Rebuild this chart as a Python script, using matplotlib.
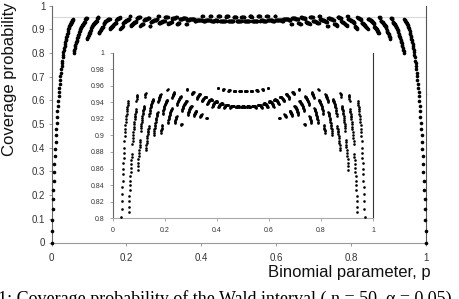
import numpy as np
import matplotlib.pyplot as plt
from matplotlib.lines import Line2D

plt.rcParams['font.family'] = ['Liberation Sans', 'DejaVu Sans']

# coverage, one value every 0.001 in p (p = 0 ... 0.5)
P_STEP = 0.001
coverage_left = [
    0.0,
    0.0488, 0.0953, 0.1395, 0.1817, 0.2217, 0.2599, 0.2962, 0.3309, 0.3638, 0.3950,
    0.4248, 0.4532, 0.4802, 0.5058, 0.5303, 0.5536, 0.5757, 0.5965, 0.6165, 0.6353,
    0.6535, 0.6705, 0.6868, 0.7022, 0.7165, 0.7300, 0.7432, 0.7557, 0.7674, 0.7811,
    0.7918, 0.8020, 0.8116, 0.8208, 0.8295, 0.8377, 0.8455, 0.8529, 0.8600, 0.8666,
    0.8728, 0.8787, 0.8842, 0.8936, 0.8988, 0.9035, 0.9081, 0.9123, 0.9162, 0.9199,
    0.9232, 0.9264, 0.9292, 0.9319, 0.9344, 0.9369, 0.9390, 0.9411, 0.7980, 0.8070,
    0.8141, 0.8210, 0.8275, 0.8336, 0.8398, 0.8455, 0.8510, 0.8562, 0.8612, 0.8658,
    0.8701, 0.8742, 0.8780, 0.8894, 0.8934, 0.8973, 0.9010, 0.9045, 0.9078, 0.9107,
    0.9137, 0.9165, 0.9192, 0.9216, 0.9238, 0.9259, 0.9279, 0.9297, 0.9313, 0.9419,
    0.9439, 0.9458, 0.9474, 0.9491, 0.8587, 0.8632, 0.8673, 0.8713, 0.8751, 0.8789,
    0.8825, 0.8858, 0.8890, 0.8922, 0.8950, 0.9057, 0.9086, 0.9114, 0.9141, 0.9165,
    0.9189, 0.9213, 0.9233, 0.9254, 0.9271, 0.9289, 0.9307, 0.9319, 0.9334, 0.9347,
    0.9355, 0.9469, 0.9482, 0.9496, 0.9507, 0.8822, 0.8852, 0.8883, 0.8911, 0.8938,
    0.8965, 0.8990, 0.9012, 0.9035, 0.9056, 0.9075, 0.9092, 0.9111, 0.9234, 0.9254,
    0.9273, 0.9292, 0.9308, 0.9326, 0.9341, 0.9355, 0.9370, 0.9381, 0.9393, 0.9402,
    0.9411, 0.9418, 0.9426, 0.9433, 0.9439, 0.9002, 0.9030, 0.9052, 0.9072, 0.9092,
    0.9111, 0.9130, 0.9149, 0.9167, 0.9185, 0.9200, 0.9214, 0.9228, 0.9242, 0.9256,
    0.9267, 0.9277, 0.9401, 0.9413, 0.9425, 0.9436, 0.9447, 0.9459, 0.9468, 0.9476,
    0.9484, 0.9492, 0.9498, 0.9028, 0.9050, 0.9070, 0.9082, 0.9093, 0.9108, 0.9121,
    0.9260, 0.9276, 0.9290, 0.9303, 0.9318, 0.9332, 0.9343, 0.9354, 0.9365, 0.9376,
    0.9384, 0.9392, 0.9399, 0.9406, 0.9414, 0.9418, 0.9421, 0.9424, 0.9545, 0.9555,
    0.9150, 0.9167, 0.9183, 0.9198, 0.9212, 0.9225, 0.9238, 0.9250, 0.9262, 0.9274,
    0.9285, 0.9294, 0.9303, 0.9311, 0.9318, 0.9325, 0.9455, 0.9465, 0.9474, 0.9482,
    0.9489, 0.9495, 0.9501, 0.9507, 0.9513, 0.9518, 0.9150, 0.9164, 0.9177, 0.9189,
    0.9200, 0.9209, 0.9217, 0.9224, 0.9230, 0.9370, 0.9383, 0.9395, 0.9404, 0.9412,
    0.9420, 0.9427, 0.9434, 0.9440, 0.9445, 0.9450, 0.9455, 0.9459, 0.9463, 0.9467,
    0.9470, 0.9130, 0.9135, 0.9140, 0.9290, 0.9302, 0.9314, 0.9325, 0.9335, 0.9345,
    0.9353, 0.9361, 0.9368, 0.9374, 0.9380, 0.9386, 0.9391, 0.9396, 0.9401, 0.9406,
    0.9410, 0.9413, 0.9416, 0.9550, 0.9555, 0.9560, 0.9247, 0.9258, 0.9269, 0.9279,
    0.9288, 0.9297, 0.9305, 0.9313, 0.9320, 0.9327, 0.9334, 0.9340, 0.9345, 0.9347,
    0.9350, 0.9352, 0.9495, 0.9500, 0.9506, 0.9510, 0.9515, 0.9519, 0.9522, 0.9525,
    0.9235, 0.9244, 0.9253, 0.9261, 0.9268, 0.9275, 0.9281, 0.9286, 0.9290, 0.9293,
    0.9295, 0.9445, 0.9452, 0.9458, 0.9464, 0.9470, 0.9475, 0.9480, 0.9484, 0.9488,
    0.9492, 0.9495, 0.9498, 0.9500, 0.9225, 0.9231, 0.9237, 0.9242, 0.9246, 0.9250,
    0.9253, 0.9410, 0.9417, 0.9424, 0.9430, 0.9435, 0.9440, 0.9445, 0.9449, 0.9453,
    0.9457, 0.9460, 0.9462, 0.9463, 0.9464, 0.9464, 0.9463, 0.9462, 0.9205, 0.9207,
    0.9208, 0.9375, 0.9383, 0.9390, 0.9396, 0.9402, 0.9407, 0.9412, 0.9416, 0.9420,
    0.9424, 0.9427, 0.9429, 0.9431, 0.9432, 0.9433, 0.9434, 0.9434, 0.9433, 0.9432,
    0.9430, 0.9345, 0.9353, 0.9360, 0.9367, 0.9374, 0.9380, 0.9385, 0.9390, 0.9394,
    0.9397, 0.9400, 0.9403, 0.9405, 0.9407, 0.9408, 0.9409, 0.9409, 0.9409, 0.9408,
    0.9407, 0.9566, 0.9567, 0.9568, 0.9340, 0.9346, 0.9352, 0.9357, 0.9362, 0.9367,
    0.9371, 0.9374, 0.9377, 0.9380, 0.9383, 0.9384, 0.9385, 0.9385, 0.9385, 0.9384,
    0.9383, 0.9381, 0.9550, 0.9552, 0.9554, 0.9555, 0.9335, 0.9340, 0.9345, 0.9350,
    0.9355, 0.9359, 0.9362, 0.9365, 0.9367, 0.9369, 0.9370, 0.9370, 0.9370, 0.9369,
    0.9368, 0.9367, 0.9365, 0.9540, 0.9541, 0.9543, 0.9544, 0.9545, 0.9545, 0.9336,
    0.9340, 0.9344, 0.9348, 0.9352, 0.9355, 0.9357, 0.9358, 0.9359, 0.9359, 0.9358,
    0.9357, 0.9356, 0.9354, 0.9352, 0.9533, 0.9535, 0.9536, 0.9537, 0.9538, 0.9538,
    0.9538, 0.9337, 0.9340, 0.9343, 0.9346, 0.9348, 0.9350, 0.9352, 0.9352, 0.9352,
    0.9351, 0.9350, 0.9349, 0.9347, 0.9345, 0.9530, 0.9531, 0.9532, 0.9532, 0.9533,
    0.9533, 0.9532, 0.9532, 0.9341, 0.9344, 0.9346, 0.9348, 0.9349, 0.9350, 0.9350,
]
# p = 0.501 ... 1
coverage_right = [
    0.9350, 0.9349, 0.9348, 0.9346, 0.9344, 0.9341, 0.9532, 0.9532, 0.9533, 0.9533,
    0.9532, 0.9532, 0.9531, 0.9530, 0.9345, 0.9347, 0.9349, 0.9350, 0.9351, 0.9352,
    0.9352, 0.9352, 0.9350, 0.9348, 0.9346, 0.9343, 0.9340, 0.9337, 0.9538, 0.9538,
    0.9538, 0.9537, 0.9536, 0.9535, 0.9533, 0.9352, 0.9354, 0.9356, 0.9357, 0.9358,
    0.9359, 0.9359, 0.9358, 0.9357, 0.9355, 0.9352, 0.9348, 0.9344, 0.9340, 0.9336,
    0.9545, 0.9545, 0.9544, 0.9543, 0.9541, 0.9540, 0.9365, 0.9367, 0.9368, 0.9369,
    0.9370, 0.9370, 0.9370, 0.9369, 0.9367, 0.9365, 0.9362, 0.9359, 0.9355, 0.9350,
    0.9345, 0.9340, 0.9335, 0.9555, 0.9554, 0.9552, 0.9550, 0.9381, 0.9383, 0.9384,
    0.9385, 0.9385, 0.9385, 0.9384, 0.9383, 0.9380, 0.9377, 0.9374, 0.9371, 0.9367,
    0.9362, 0.9357, 0.9352, 0.9346, 0.9340, 0.9568, 0.9567, 0.9566, 0.9407, 0.9408,
    0.9409, 0.9409, 0.9409, 0.9408, 0.9407, 0.9405, 0.9403, 0.9400, 0.9397, 0.9394,
    0.9390, 0.9385, 0.9380, 0.9374, 0.9367, 0.9360, 0.9353, 0.9345, 0.9430, 0.9432,
    0.9433, 0.9434, 0.9434, 0.9433, 0.9432, 0.9431, 0.9429, 0.9427, 0.9424, 0.9420,
    0.9416, 0.9412, 0.9407, 0.9402, 0.9396, 0.9390, 0.9383, 0.9375, 0.9208, 0.9207,
    0.9205, 0.9462, 0.9463, 0.9464, 0.9464, 0.9463, 0.9462, 0.9460, 0.9457, 0.9453,
    0.9449, 0.9445, 0.9440, 0.9435, 0.9430, 0.9424, 0.9417, 0.9410, 0.9253, 0.9250,
    0.9246, 0.9242, 0.9237, 0.9231, 0.9225, 0.9500, 0.9498, 0.9495, 0.9492, 0.9488,
    0.9484, 0.9480, 0.9475, 0.9470, 0.9464, 0.9458, 0.9452, 0.9445, 0.9295, 0.9293,
    0.9290, 0.9286, 0.9281, 0.9275, 0.9268, 0.9261, 0.9253, 0.9244, 0.9235, 0.9525,
    0.9522, 0.9519, 0.9515, 0.9510, 0.9506, 0.9500, 0.9495, 0.9352, 0.9350, 0.9347,
    0.9345, 0.9340, 0.9334, 0.9327, 0.9320, 0.9313, 0.9305, 0.9297, 0.9288, 0.9279,
    0.9269, 0.9258, 0.9247, 0.9560, 0.9555, 0.9550, 0.9416, 0.9413, 0.9410, 0.9406,
    0.9401, 0.9396, 0.9391, 0.9386, 0.9380, 0.9374, 0.9368, 0.9361, 0.9353, 0.9345,
    0.9335, 0.9325, 0.9314, 0.9302, 0.9290, 0.9140, 0.9135, 0.9130, 0.9470, 0.9467,
    0.9463, 0.9459, 0.9455, 0.9450, 0.9445, 0.9440, 0.9434, 0.9427, 0.9420, 0.9412,
    0.9404, 0.9395, 0.9383, 0.9370, 0.9230, 0.9224, 0.9217, 0.9209, 0.9200, 0.9189,
    0.9177, 0.9164, 0.9150, 0.9518, 0.9513, 0.9507, 0.9501, 0.9495, 0.9489, 0.9482,
    0.9474, 0.9465, 0.9455, 0.9325, 0.9318, 0.9311, 0.9303, 0.9294, 0.9285, 0.9274,
    0.9262, 0.9250, 0.9238, 0.9225, 0.9212, 0.9198, 0.9183, 0.9167, 0.9150, 0.9555,
    0.9545, 0.9424, 0.9421, 0.9418, 0.9414, 0.9406, 0.9399, 0.9392, 0.9384, 0.9376,
    0.9365, 0.9354, 0.9343, 0.9332, 0.9318, 0.9303, 0.9290, 0.9276, 0.9260, 0.9121,
    0.9108, 0.9093, 0.9082, 0.9070, 0.9050, 0.9028, 0.9498, 0.9492, 0.9484, 0.9476,
    0.9468, 0.9459, 0.9447, 0.9436, 0.9425, 0.9413, 0.9401, 0.9277, 0.9267, 0.9256,
    0.9242, 0.9228, 0.9214, 0.9200, 0.9185, 0.9167, 0.9149, 0.9130, 0.9111, 0.9092,
    0.9072, 0.9052, 0.9030, 0.9002, 0.9439, 0.9433, 0.9426, 0.9418, 0.9411, 0.9402,
    0.9393, 0.9381, 0.9370, 0.9355, 0.9341, 0.9326, 0.9308, 0.9292, 0.9273, 0.9254,
    0.9234, 0.9111, 0.9092, 0.9075, 0.9056, 0.9035, 0.9012, 0.8990, 0.8965, 0.8938,
    0.8911, 0.8883, 0.8852, 0.8822, 0.9507, 0.9496, 0.9482, 0.9469, 0.9355, 0.9347,
    0.9334, 0.9319, 0.9307, 0.9289, 0.9271, 0.9254, 0.9233, 0.9213, 0.9189, 0.9165,
    0.9141, 0.9114, 0.9086, 0.9057, 0.8950, 0.8922, 0.8890, 0.8858, 0.8825, 0.8789,
    0.8751, 0.8713, 0.8673, 0.8632, 0.8587, 0.9491, 0.9474, 0.9458, 0.9439, 0.9419,
    0.9313, 0.9297, 0.9279, 0.9259, 0.9238, 0.9216, 0.9192, 0.9165, 0.9137, 0.9107,
    0.9078, 0.9045, 0.9010, 0.8973, 0.8934, 0.8894, 0.8780, 0.8742, 0.8701, 0.8658,
    0.8612, 0.8562, 0.8510, 0.8455, 0.8398, 0.8336, 0.8275, 0.8210, 0.8141, 0.8070,
    0.7980, 0.9411, 0.9390, 0.9369, 0.9344, 0.9319, 0.9292, 0.9264, 0.9232, 0.9199,
    0.9162, 0.9123, 0.9081, 0.9035, 0.8988, 0.8936, 0.8842, 0.8787, 0.8728, 0.8666,
    0.8600, 0.8529, 0.8455, 0.8377, 0.8295, 0.8208, 0.8116, 0.8020, 0.7918, 0.7811,
    0.7674, 0.7557, 0.7432, 0.7300, 0.7165, 0.7022, 0.6868, 0.6705, 0.6535, 0.6353,
    0.6165, 0.5965, 0.5757, 0.5536, 0.5303, 0.5058, 0.4802, 0.4532, 0.4248, 0.3950,
    0.3638, 0.3309, 0.2962, 0.2599, 0.2217, 0.1817, 0.1395, 0.0953, 0.0488, 0.0,
]

main_xticks = [0, 0.2, 0.4, 0.6, 0.8, 1]
main_yticks = [0, 0.1, 0.2, 0.3, 0.4, 0.5, 0.6, 0.7, 0.8, 0.9, 1]
inset_xticks = [0, 0.2, 0.4, 0.6, 0.8, 1]
inset_yticks = [0.8, 0.82, 0.84, 0.86, 0.88, 0.9, 0.92, 0.94, 0.96, 0.98, 1]
NOMINAL = 0.95

coverage = np.array(coverage_left + coverage_right)
p = np.arange(coverage.size) * P_STEP

W, H = 459, 299
fig = plt.figure(figsize=(W / 100, H / 100), dpi=100)

def fmt(v):
    return f"{v:g}"

# ---- main plot
ax = fig.add_axes([51.5 / W, 1 - 242.5 / H, (426 - 51.5) / W, (242.5 - 5.5) / H])
ax.axhline(NOMINAL, color='#d9d9d9', lw=0.8, zorder=0)
ax.plot(p, coverage, 'o', ms=2.6, mfc='black', mec='black', mew=0, clip_on=False, zorder=3)
ax.set_xlim(0, 1)
ax.set_ylim(0, 1)
ax.set_xticks(main_xticks, [fmt(v) for v in main_xticks])
ax.set_yticks(main_yticks, [fmt(v) for v in main_yticks])
ax.tick_params(axis='both', labelsize=7, colors='#888888', labelcolor='#333333',
               length=2.5, width=0.6, direction='out')
ax.tick_params(axis='x', pad=5)
ax.tick_params(axis='y', pad=2)
ax.spines['top'].set_visible(False)
ax.spines['left'].set_color('#666666')
ax.spines['bottom'].set_color('#999999')
ax.spines['right'].set_color('#555555')
for s in ax.spines.values():
    s.set_linewidth(0.8)

# ---- inset (same data, y zoomed)
ins = fig.add_axes([113 / W, 1 - 218.3 / H, 260 / W, (218.3 - 52.5) / H])
ins.patch.set_alpha(0)
ins.plot(p, coverage, 'o', ms=1.9, mfc='black', mec='black', mew=0, zorder=3)
ins.set_xlim(0, 1)
ins.set_ylim(0.8, 1)
ins.set_xticks(inset_xticks, [fmt(v) for v in inset_xticks])
ins.set_yticks(inset_yticks, [fmt(v) for v in inset_yticks])
ins.tick_params(axis='both', labelsize=5, colors='#888888', labelcolor='#333333',
                length=2, width=0.5, direction='out', pad=4)
ins.spines['top'].set_visible(False)
ins.spines['left'].set_color('#666666')
ins.spines['bottom'].set_color('#aaaaaa')
ins.spines['right'].set_color('#333333')
for s in ins.spines.values():
    s.set_linewidth(0.8)

# inset nominal line runs across the whole main plot width
y95 = 218.3 - (NOMINAL - 0.8) / 0.2 * (218.3 - 52.5)
fig.add_artist(Line2D([52 / W, 427 / W], [1 - y95 / H, 1 - y95 / H],
                      color='#d9d9d9', lw=0.8, zorder=0))

# ---- labels
fig.text(10 / W, 1 - 79 / H, "Coverage probability", rotation=90,
         ha='center', va='center', fontsize=12, color='#111111')
fig.text(431 / W, 1 - 272.7 / H, "Binomial parameter, p",
         ha='right', va='center', fontsize=12, color='#111111')
fig.text(-2 / W, 1 - 299 / H, "1: Coverage probability of the Wald interval ( n = 50, \u03b1 = 0.05)",
         ha='left', va='center', fontsize=13, family=['Liberation Serif', 'DejaVu Serif'])

fig.savefig("out.png", dpi=100)
